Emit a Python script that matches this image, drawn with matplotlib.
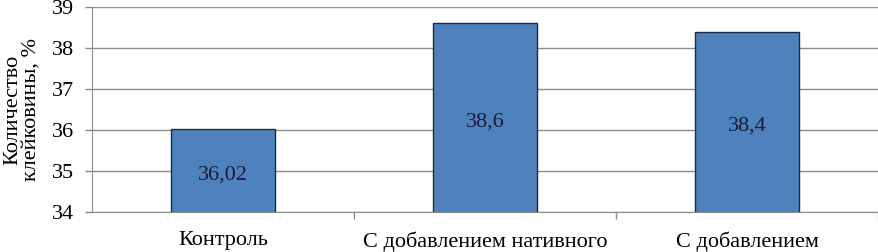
import matplotlib
matplotlib.use("Agg")
import matplotlib.pyplot as plt
import numpy as np

categories = ["Контроль", "С добавлением нативного", "С добавлением"]
values = [36.02, 38.6, 38.4]
value_labels = ["36,02", "38,6", "38,4"]
yticks = [34, 35, 36, 37, 38, 39]

plt.rcParams['font.family'] = ['Liberation Serif', 'DejaVu Serif']

fig = plt.figure(figsize=(8.79, 2.52), dpi=100)
ax = fig.add_axes([92/879, 40/252, (878-92)/879, 205/252])

x = np.arange(len(categories))
ax.bar(x, values, width=0.4, color="#4F81BD", edgecolor="#1C2B45", linewidth=1.0, zorder=3)
for xi, v, lab in zip(x, values, value_labels):
    ax.annotate(lab, xy=(xi, (34 + v) / 2), xytext=(0, -3), textcoords="offset points",
                ha="center", va="center", fontsize=16, color="#1A1A3A", zorder=4)

ax.set_xlim(-0.5, len(categories) - 0.5)
ax.set_ylim(34, 39)
ax.set_yticks(yticks)
ax.set_yticklabels([str(t) for t in yticks], fontsize=16)
ax.yaxis.grid(True, color="#8C8C8C", linewidth=1.0, zorder=0)
ax.set_axisbelow(True)

ax.set_xticks(x)
ax.set_xticklabels(categories, fontsize=16)
ax.set_xticks(np.arange(len(categories)) + 0.5, minor=True)
ax.tick_params(axis="x", which="major", length=0, pad=14)
ax.tick_params(axis="x", which="minor", length=5, color="#8C8C8C", width=1)
ax.tick_params(axis="y", length=5, color="#8C8C8C", width=1, pad=8)

for s in ["top", "right"]:
    ax.spines[s].set_visible(False)
ax.spines["left"].set_color("#8C8C8C")
ax.spines["bottom"].set_color("#8C8C8C")

fig.text(22/879, 1 - 109.5/252, "Количество\nклейковины, %", rotation=90,
         ha="center", va="center", fontsize=16, linespacing=1.0)

fig.savefig("out.png", dpi=100)
